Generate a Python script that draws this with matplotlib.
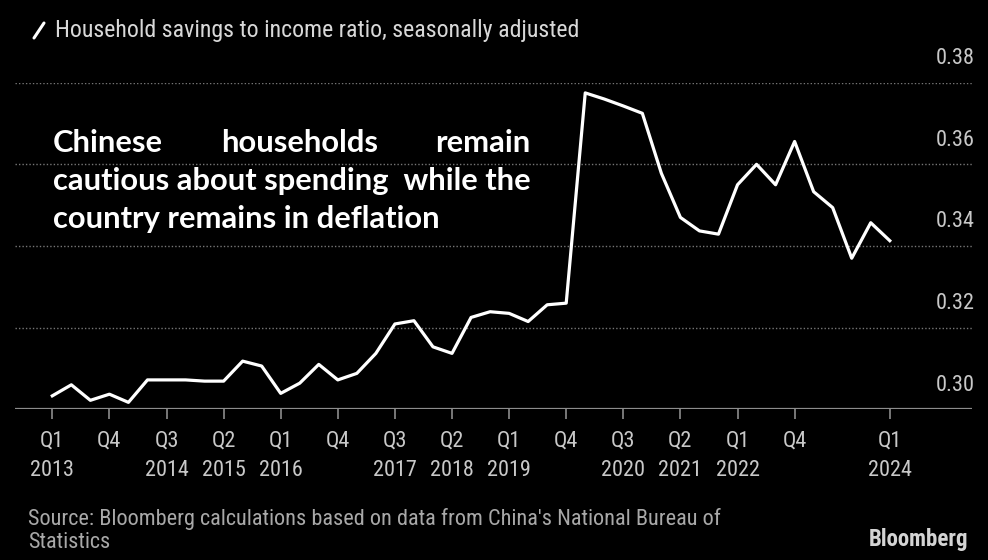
import numpy as np
import matplotlib
matplotlib.use("Agg")
import matplotlib.pyplot as plt
from matplotlib.lines import Line2D

# household savings / disposable income, quarterly, Q1 2013 .. Q1 2024
savings_ratio = [
    0.3033, 0.3060, 0.3022, 0.3037, 0.3017, 0.3072, 0.3072, 0.3072, 0.3069, 0.3069,
    0.3118, 0.3106, 0.3039, 0.3064, 0.3110, 0.3072, 0.3088, 0.3137, 0.3209, 0.3217,
    0.3153, 0.3137, 0.3225, 0.3239, 0.3235, 0.3215, 0.3256, 0.3260, 0.3775, 0.3760,
    0.3743, 0.3725, 0.3578, 0.3470, 0.3437, 0.3429, 0.3550, 0.3600, 0.3550, 0.3656,
    0.3533, 0.3494, 0.3370, 0.3457, 0.3413,
]
tick_idx = [0, 3, 6, 9, 12, 15, 18, 21, 24, 27, 30, 33, 36, 39, 44]
tick_labels = ["Q1\n2013", "Q4\n", "Q3\n2014", "Q2\n2015", "Q1\n2016", "Q4\n",
               "Q3\n2017", "Q2\n2018", "Q1\n2019", "Q4\n", "Q3\n2020", "Q2\n2021",
               "Q1\n2022", "Q4\n", "Q1\n2024"]
y_ticks = [0.30, 0.32, 0.34, 0.36, 0.38]

NARROW = ["Roboto Condensed", "PT Sans Narrow", "DejaVu Sans"]
W, H = 988, 560

fig = plt.figure(figsize=(W / 100, H / 100), dpi=100, facecolor="black")
ax = fig.add_axes([15 / W, 150.7 / H, 957 / W, 326.6 / H])
ax.set_facecolor("black")

x = np.arange(len(savings_ratio))
ax.plot(x, savings_ratio, color="white", lw=2.3, solid_joinstyle="round", clip_on=False, zorder=5)

ax.set_xlim(-1.96, 48.32)
ax.set_ylim(0.30, 0.38)

for s in ax.spines.values():
    s.set_visible(False)

# dotted gridlines and solid baseline
for v in y_ticks[1:]:
    ax.axhline(v, color="#767676", lw=1.0, ls=(0, (1, 1.5)), zorder=1)
ax.axhline(0.30, color="#8c8c8c", lw=1.6, zorder=2)

ax.set_yticks([])
ax.set_xticks(tick_idx)
ax.set_xticklabels(tick_labels, family=NARROW, fontsize=16, color="#c8c8c8", linespacing=1.55)
ax.tick_params(axis="x", length=7.2, width=1.2, color="#8c8c8c", pad=8)

# value labels sit above their gridlines on the right
for v in y_ticks:
    ax.annotate(f"{v:.2f}", xy=(1.003, v), xycoords=("axes fraction", "data"),
                xytext=(0, 24), textcoords="offset pixels", ha="right", va="center",
                family=NARROW, fontsize=16, color="#c8c8c8")

# header
fig.add_artist(Line2D([34 / W, 44 / W], [1 - 38 / H, 1 - 23 / H], color="white", lw=2.2,
                      solid_capstyle="round"))
fig.text(55 / W, 1 - 30 / H, "Household savings to income ratio, seasonally adjusted",
         family=NARROW, fontsize=17.2, color="#d8d8d8", va="center", ha="left")

# footer
footer_kw = dict(family=NARROW, fontsize=16, color="#a8a8a8", va="baseline", ha="left")
fig.text(28 / W, 1 - 525 / H, "Source: Bloomberg calculations based on data from China's National Bureau of", **footer_kw)
fig.text(28 / W, 1 - 548 / H, "Statistics", **footer_kw)
fig.text(968 / W, 1 - 546 / H, "Bloomberg", family=NARROW, fontsize=16.5, fontweight="bold",
         color="#d4d4d4", va="baseline", ha="right")

# commentary block
note_kw = dict(family=["Lato", "DejaVu Sans"], fontsize=22.2, fontweight="bold", color="white",
               va="baseline", ha="left")
left = 53
line2 = fig.text(left / W, 1 - 190 / H, "cautious about spending  while the", **note_kw)
fig.text(left / W, 1 - 228 / H, "country remains in deflation", **note_kw)

renderer = fig.canvas.get_renderer()
right = line2.get_window_extent(renderer).x1
words = ["Chinese", "households", "remain"]
word_txt = [fig.text(0, 1 - 152 / H, w, **note_kw) for w in words]
widths = [t.get_window_extent(renderer).width for t in word_txt]
gap = (right - left - sum(widths)) / (len(words) - 1)
pos = left
for t, w in zip(word_txt, widths):
    t.set_x(pos / W)
    pos += w + gap

fig.savefig("out.png", dpi=100, facecolor="black")
